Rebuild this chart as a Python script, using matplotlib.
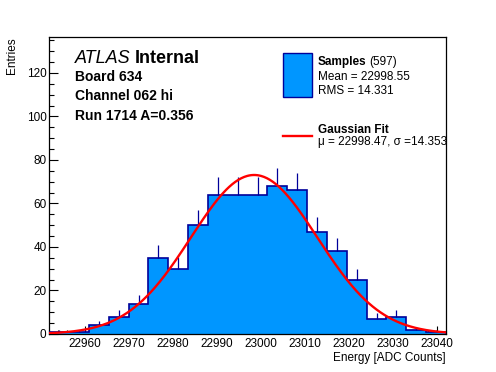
import numpy as np
import matplotlib
matplotlib.use("Agg")
import matplotlib.pyplot as plt
from matplotlib.ticker import MultipleLocator

plt.rcParams['font.family'] = ['Liberation Sans', 'DejaVu Sans']

# histogram: 20 bins from 22952 to 23042
bin_lo = 22952.0
bin_hi = 23042.0
counts = [1, 1, 4, 8, 14, 35, 30, 50, 64, 64, 64, 68, 66, 47, 38, 25, 7, 8, 2, 1]

# gaussian fit result
fit_mu = 22998.47
fit_sigma = 14.353
fit_amp = 73.1

n_entries = 597
mean_txt = "22998.55"
rms_txt = "14.331"

fill_col = '#0096ff'
edge_col = '#00009a'

edges = np.linspace(bin_lo, bin_hi, len(counts) + 1)
centers = 0.5 * (edges[:-1] + edges[1:])
cnt = np.array(counts, dtype=float)

W, H = 496, 372
fig = plt.figure(figsize=(W / 100, H / 100), dpi=100)
ax = fig.add_axes([49.3 / W, 1 - 334 / H, (446 - 49.3) / W, (334 - 37.3) / H])

ax.stairs(cnt, edges, fill=True, facecolor=fill_col, edgecolor='none', zorder=2)
ax.stairs(cnt, edges, fill=False, color=edge_col, linewidth=1.2, zorder=3)
# upper halves of the error bars (lower part hidden by the fill in ROOT)
ax.vlines(centers, cnt, cnt + np.sqrt(cnt), color=edge_col, linewidth=0.9, zorder=3)

xf = np.linspace(bin_lo, bin_hi, 400)
yf = fit_amp * np.exp(-0.5 * ((xf - fit_mu) / fit_sigma) ** 2)
ax.plot(xf, yf, color='red', linewidth=1.7, zorder=4)

ax.set_xlim(bin_lo, bin_hi)
ax.set_ylim(0, 136.4)

ax.xaxis.set_major_locator(MultipleLocator(10))
ax.xaxis.set_minor_locator(MultipleLocator(2))
ax.yaxis.set_major_locator(MultipleLocator(20))
ax.yaxis.set_minor_locator(MultipleLocator(5))
ax.tick_params(axis='both', which='both', direction='in', top=False, right=False,
               labelsize=8.5, width=0.8)
ax.tick_params(axis='x', which='major', length=5.8, pad=3)
ax.tick_params(axis='x', which='minor', length=2.9)
ax.tick_params(axis='y', which='major', length=6.5, pad=2)
ax.tick_params(axis='y', which='minor', length=3.5)
for s in ax.spines.values():
    s.set_linewidth(0.9)

ax.set_xlabel("Energy [ADC Counts]", fontsize=8.5, loc='right', labelpad=1)
ax.set_ylabel("Entries", fontsize=8.5, loc='top', labelpad=6)


def px(x, y):
    return x / W, 1 - y / H


t_atlas = fig.text(*px(75, 63), "ATLAS", fontsize=13, style='italic', ha='left', va='baseline')
fig.text(*px(75, 81), "Board 634", fontsize=10, weight='bold', ha='left', va='baseline')
fig.text(*px(75, 100.5), "Channel 062 hi", fontsize=10, weight='bold', ha='left', va='baseline')
fig.text(*px(75, 120), "Run 1714 A=0.356", fontsize=10, weight='bold', ha='left', va='baseline')

# legend
leg_box = plt.Rectangle(px(283.3, 96.7), 28.4 / W, 43.4 / H, transform=fig.transFigure,
                        facecolor=fill_col, edgecolor=edge_col, linewidth=1.0)
fig.add_artist(leg_box)
t_samp = fig.text(*px(317.5, 65.5), "Samples", fontsize=8.5, weight='bold', ha='left', va='baseline')
fig.text(*px(317.5, 80), f"Mean = {mean_txt}", fontsize=8.5, ha='left', va='baseline')
fig.text(*px(317.5, 93.5), f"RMS = {rms_txt}", fontsize=8.5, ha='left', va='baseline')

fig.add_artist(plt.Line2D([283.3 / W, 311.7 / W], [1 - 136 / H, 1 - 136 / H],
                          transform=fig.transFigure, color='red', linewidth=1.7))
fig.text(*px(317.5, 133), "Gaussian Fit", fontsize=8.5, weight='bold', ha='left', va='baseline')
fig.text(*px(317.5, 145), f"\u03bc = {fit_mu:.2f}, \u03c3 ={fit_sigma:.3f}", fontsize=8.5,
         ha='left', va='baseline')

# texts that follow another text
fig.canvas.draw()
ax.annotate("Internal", xy=(1, 0), xycoords=t_atlas, xytext=(4, 0), textcoords='offset pixels',
            fontsize=13, weight='bold', ha='left', va='bottom')
ax.annotate(f"({n_entries})", xy=(1, 0), xycoords=t_samp, xytext=(3, 0), textcoords='offset pixels',
            fontsize=8.5, ha='left', va='bottom')

fig.savefig("out.png", dpi=100)
